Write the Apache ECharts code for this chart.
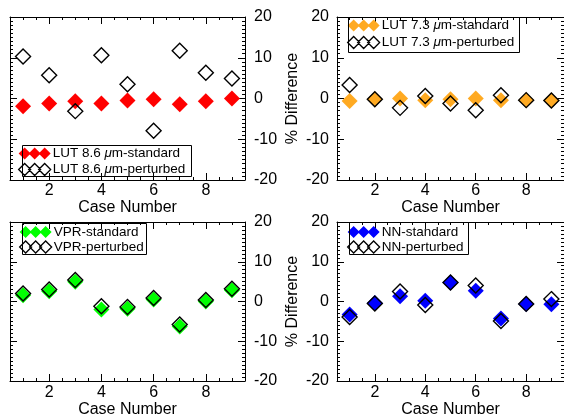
<!DOCTYPE html>
<html>
<head>
<meta charset="utf-8">
<script src="https://cdn.jsdelivr.net/npm/echarts@6/dist/echarts.min.js"></script>
<style>
html,body{margin:0;padding:0;background:#fff;}
#c{width:564px;height:419px;}
</style>
</head>
<body>
<div id="c"></div>
<script>
// ---- data ----
const cases = [1, 2, 3, 4, 5, 6, 7, 8, 9];
const lut86Std  = [-1.9, -1.2, -0.7, -1.2, -0.5, -0.2, -1.4, -0.7, 0.0];
const lut86Pert = [10.3, 5.7, -3.1, 10.6, 3.5, -7.9, 11.7, 6.3, 4.9];
const lut73Std  = [-0.6, -0.2, 0.0, -0.4, -0.2, 0.0, -0.4, -0.4, -0.5];
const lut73Pert = [3.3, -0.2, -2.3, 0.6, -1.2, -2.9, 0.8, -0.4, -0.5];
const vprStd    = [1.6, 2.6, 5.0, -2.0, -1.8, 0.5, -6.3, 0.0, 2.8];
const vprPert   = [2.0, 3.0, 5.4, -1.2, -1.4, 0.9, -5.8, 0.4, 3.2];
const nnStd     = [-3.3, -0.4, 1.3, 0.2, 4.8, 2.7, -4.3, -0.6, -0.7];
const nnPert    = [-3.9, -0.5, 2.5, -0.9, 4.8, 4.0, -4.9, -0.6, 0.6];
const xMajorTicks = [2, 4, 6, 8];
const xAxisTitle = 'Case Number';
const yAxisTitle = '% Difference';
const seriesNames = [
  ['LUT 8.6 μm-standard', 'LUT 8.6 μm-perturbed'],
  ['LUT 7.3 μm-standard', 'LUT 7.3 μm-perturbed'],
  ['VPR-standard', 'VPR-perturbed'],
  ['NN-standard', 'NN-perturbed']
];
const seriesData = [
  [lut86Std, lut86Pert],
  [lut73Std, lut73Pert],
  [vprStd, vprPert],
  [nnStd, nnPert]
];

// ---- layout / style ----
const FONT = 'Liberation Sans, Arial, Helvetica, sans-serif';
const colors = ['#ff0000', '#ffaa22', '#00ff00', '#0000ff'];
const panels = [
  {grid: {left: 10, top: 17, width: 235, height: 163}, labelsRight: true, nameGap: 20, labMargin: 3,
   legend: {left: 18, top: 146.5, gap: 2, lh: 14}, box: [22, 145, 169, 31]},
  {grid: {left: 337, top: 17, width: 234, height: 163}, labelsRight: false, nameGap: 20, labMargin: 3,
   legend: {left: 347, top: 18.5, gap: 3, lh: 14}, box: [348, 17, 171, 35]},
  {grid: {left: 10, top: 222, width: 235, height: 161}, labelsRight: true, nameGap: 21, labMargin: 4,
   legend: {left: 19, top: 225, gap: 1, lh: 12}, box: [22, 223, 124, 31]},
  {grid: {left: 337, top: 222, width: 234, height: 161}, labelsRight: false, nameGap: 21, labMargin: 4,
   legend: {left: 347, top: 225, gap: 1, lh: 12}, box: [349, 222, 119, 32]}
];
const diamondIcon = 'path://M0,6L6,0L12,6L6,12Z M10,6L16,0L22,6L16,12Z M20,6L26,0L32,6L26,12Z';
const black = '#000';

const grids = [], xAxes = [], yAxes = [], series = [], legends = [], graphics = [];

panels.forEach((p, i) => {
  grids.push(Object.assign({containLabel: false}, p.grid));
  const xBase = {gridIndex: i, type: 'value', min: 0.5, max: 9.5, splitLine: {show: false}};
  xAxes.push(Object.assign({}, xBase, {
    position: 'bottom',
    axisLine: {show: true, onZero: false, lineStyle: {color: black, width: 1}},
    axisTick: {show: true, inside: true, length: 7, customValues: xMajorTicks, lineStyle: {color: black}},
    axisLabel: {show: true, customValues: xMajorTicks, fontSize: 16, color: black, margin: p.labMargin, fontFamily: FONT},
    name: xAxisTitle, nameLocation: 'middle', nameGap: p.nameGap,
    nameTextStyle: {fontSize: 16, color: black, fontFamily: FONT}
  }));
  xAxes.push(Object.assign({}, xBase, {
    position: 'bottom', interval: 0.5,
    axisLine: {show: false, onZero: false},
    axisTick: {show: true, inside: true, length: 3, lineStyle: {color: black}},
    axisLabel: {show: false}
  }));
  xAxes.push(Object.assign({}, xBase, {
    position: 'top',
    axisLine: {show: true, onZero: false, lineStyle: {color: black, width: 1}},
    axisTick: {show: true, inside: true, length: 7, customValues: xMajorTicks, lineStyle: {color: black}},
    axisLabel: {show: false}
  }));
  xAxes.push(Object.assign({}, xBase, {
    position: 'top', interval: 0.5,
    axisLine: {show: false, onZero: false},
    axisTick: {show: true, inside: true, length: 3, lineStyle: {color: black}},
    axisLabel: {show: false}
  }));

  const yBase = {
    gridIndex: i, type: 'value', min: -20, max: 20, interval: 10, splitLine: {show: false},
    axisLine: {show: true, onZero: false, lineStyle: {color: black, width: 1}},
    axisTick: {show: true, inside: true, length: 7, lineStyle: {color: black}},
    minorTick: {show: true, splitNumber: 10, length: 3, lineStyle: {color: black}},
    minorSplitLine: {show: false}
  };
  yAxes.push(Object.assign({}, yBase, {
    position: 'left',
    axisLabel: {show: !p.labelsRight, fontSize: 16, color: black, margin: 8, fontFamily: FONT},
    name: p.labelsRight ? '' : yAxisTitle, nameLocation: 'middle', nameGap: 36, nameRotate: 90,
    nameTextStyle: {fontSize: 16, color: black, fontFamily: FONT}
  }));
  yAxes.push(Object.assign({}, yBase, {
    position: 'right',
    axisLabel: {show: p.labelsRight, fontSize: 16, color: black, margin: 9, fontFamily: FONT}
  }));

  const [stdName, pertName] = seriesNames[i];
  const [stdVals, pertVals] = seriesData[i];
  series.push({
    name: stdName, type: 'scatter', xAxisIndex: 4 * i, yAxisIndex: 2 * i,
    symbol: 'diamond', symbolSize: 16, z: 2,
    itemStyle: {color: colors[i], borderWidth: 0, opacity: 1},
    data: cases.map((c, k) => [c, stdVals[k]])
  });
  series.push({
    name: pertName, type: 'scatter', xAxisIndex: 4 * i, yAxisIndex: 2 * i,
    symbol: 'diamond', symbolSize: 15, z: 3,
    itemStyle: {color: 'rgba(0,0,0,0)', borderColor: black, borderWidth: 1.4, opacity: 1},
    data: cases.map((c, k) => [c, pertVals[k]])
  });

  const L = p.legend;
  legends.push({
    left: L.left, top: L.top, orient: 'vertical', padding: 0, itemGap: L.gap,
    itemWidth: 32, itemHeight: 12, icon: diamondIcon,
    selectedMode: false,
    data: [
      {name: stdName, itemStyle: {color: colors[i], borderWidth: 0}},
      {name: pertName, itemStyle: {color: 'rgba(0,0,0,0)', borderColor: black, borderWidth: 1.3}}
    ],
    formatter: n => n.replace('μ', '{i|μ}'),
    textStyle: {fontSize: 13.5, color: black, fontFamily: FONT, lineHeight: L.lh, padding: [0, 0, 0, -3],
      rich: {i: {fontStyle: 'italic', fontSize: 13.5, color: black, fontFamily: FONT, lineHeight: L.lh}}}
  });
  graphics.push({
    type: 'rect', z: 5, silent: true,
    shape: {x: p.box[0] + 0.5, y: p.box[1] + 0.5, width: p.box[2], height: p.box[3]},
    style: {fill: 'none', stroke: black, lineWidth: 1}
  });
});

const chart = echarts.init(document.getElementById('c'), null, {renderer: 'canvas'});
chart.setOption({
  animation: false,
  backgroundColor: '#fff',
  textStyle: {fontFamily: FONT},
  grid: grids,
  xAxis: xAxes,
  yAxis: yAxes,
  legend: legends,
  graphic: graphics,
  series: series
});
</script>
</body>
</html>
